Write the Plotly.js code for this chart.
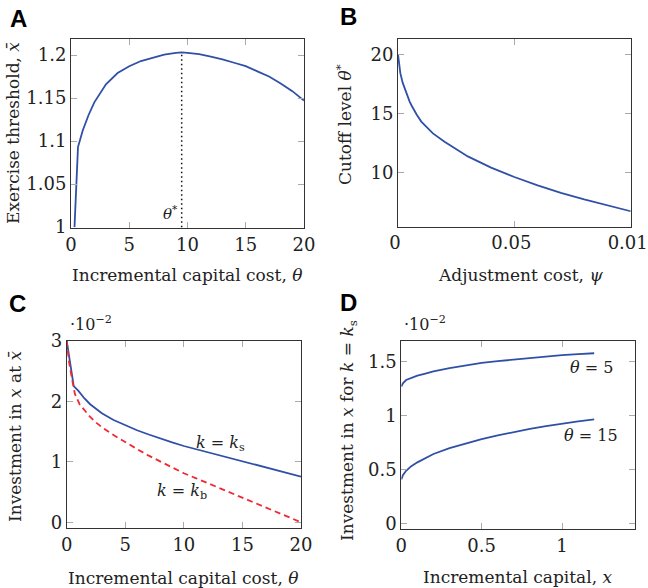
<!DOCTYPE html>
<html><head><meta charset="utf-8">
<script src="https://cdn.plot.ly/plotly-3.0.1.min.js"></script>
<style>html,body{margin:0;padding:0;background:#fff}#plot{width:648px;height:588px}</style>
</head><body><div id="plot"></div>
<script>
// Panel A: exercise threshold vs incremental capital cost
const A_theta = [0.3, 0.6, 1, 1.5, 2, 2.5, 3, 4, 5, 6, 7, 8, 9, 9.5, 10, 11, 12, 13, 14, 15, 16, 17, 18, 19, 20];
const A_xbar  = [1.0, 1.093, 1.112, 1.13, 1.145, 1.156, 1.166, 1.179, 1.187, 1.193, 1.197, 1.2005, 1.2025, 1.203, 1.2025, 1.201, 1.198, 1.195, 1.191, 1.187, 1.181, 1.175, 1.167, 1.158, 1.147];
const A_cut_x = [9.5, 9.5];
const A_cut_y = [1.0, 1.203];
const A_xticks = [0, 5, 10, 15, 20];
const A_yticks = [1, 1.05, 1.1, 1.15, 1.2];
const A_yticklabels = ['1', '1.05', '1.1', '1.15', '1.2'];

// Panel B: cutoff level vs adjustment cost
const B_psi   = [0, 0.0005, 0.001, 0.002, 0.003, 0.004, 0.005, 0.006, 0.0065, 0.008, 0.01, 0.015, 0.02, 0.025, 0.03, 0.04, 0.05, 0.06, 0.07, 0.08, 0.09, 0.1];
const B_theta = [20, 19.0, 18.4, 17.6, 17.0, 16.5, 16.0, 15.6, 15.4, 14.9, 14.3, 13.3, 12.6, 11.95, 11.35, 10.4, 9.6, 8.9, 8.25, 7.7, 7.2, 6.7];
const B_xticks = [0, 0.05, 0.1];
const B_xticklabels = ['0', '0.05', '0.01'];
const B_yticks = [10, 15, 20];

// Panel C: investment in x at x-bar (×10^-2)
const C_theta_s = [0, 0.6, 1, 1.5, 2, 2.5, 3, 4, 5, 6, 7, 8, 9, 10, 11, 12, 13, 14, 15, 16, 17, 18, 19, 20];
const C_ks      = [3.0, 2.25, 2.17, 2.05, 1.95, 1.87, 1.80, 1.69, 1.60, 1.52, 1.45, 1.38, 1.32, 1.26, 1.21, 1.15, 1.10, 1.05, 1.00, 0.95, 0.90, 0.85, 0.80, 0.755];
const C_theta_b = [0, 0.2, 0.43, 0.7, 1.1, 1.5, 2, 2.5, 3, 4, 5, 6, 7, 8, 9, 10, 11, 12, 13, 14, 15, 16, 17, 18, 19, 20];
const C_kb      = [3.0, 2.65, 2.39, 2.12, 1.95, 1.85, 1.74, 1.65, 1.57, 1.44, 1.32, 1.21, 1.10, 1.00, 0.90, 0.81, 0.73, 0.65, 0.57, 0.49, 0.41, 0.33, 0.25, 0.17, 0.09, 0.0];
const C_xticks = [0, 5, 10, 15, 20];
const C_yticks = [0, 1, 2, 3];

// Panel D: investment in x for k = k_s (×10^-2)
const D_x       = [0, 0.01, 0.03, 0.06, 0.1, 0.15, 0.2, 0.3, 0.4, 0.5, 0.6, 0.7, 0.8, 0.9, 1.0, 1.1, 1.2];
const D_theta5  = [1.27, 1.30, 1.33, 1.35, 1.37, 1.39, 1.41, 1.44, 1.465, 1.488, 1.505, 1.52, 1.535, 1.548, 1.56, 1.57, 1.578];
const D_theta15 = [0.41, 0.45, 0.49, 0.53, 0.568, 0.61, 0.645, 0.70, 0.745, 0.784, 0.818, 0.85, 0.877, 0.903, 0.928, 0.948, 0.965];
const D_xticks = [0, 0.5, 1];
const D_yticks = [0, 0.5, 1, 1.5];

const W = 648, H = 588;
const FONT = 'DejaVu Serif';
const FS = 17, TFS = 18;
const BLUE = '#3050a8', RED = '#ee2a35';
const px = x => x / W, py = y => 1 - y / H;

function ax(dom, range, tv, tt, anchor) {
  const o = {domain: dom, range: range, tickmode: 'array', tickvals: tv, anchor: anchor,
    showline: true, linecolor: '#333', linewidth: 1, mirror: 'ticks', ticks: 'inside',
    ticklen: 6, tickwidth: 1, tickcolor: '#aaa', showgrid: false, zeroline: false,
    ticklabeloverflow: 'allow',
    tickfont: {family: FONT, size: TFS, color: '#222'}, fixedrange: true};
  if (tt) o.ticktext = tt;
  return o;
}

const line = (color, dash) => ({color: color, width: 1.8, dash: dash || 'solid'});
const data = [
  {x: A_theta, y: A_xbar, xaxis: 'x', yaxis: 'y', mode: 'lines', line: line(BLUE)},
  {x: A_cut_x, y: A_cut_y, xaxis: 'x', yaxis: 'y', mode: 'lines', line: {color: '#111', width: 1.5, dash: '1.5px,3px'}},
  {x: B_psi, y: B_theta, xaxis: 'x2', yaxis: 'y2', mode: 'lines', line: line(BLUE)},
  {x: C_theta_s, y: C_ks, xaxis: 'x3', yaxis: 'y3', mode: 'lines', line: line(BLUE)},
  {x: C_theta_b, y: C_kb, xaxis: 'x3', yaxis: 'y3', mode: 'lines', line: {color: RED, width: 1.8, dash: '6px,4px'}},
  {x: D_x, y: D_theta5, xaxis: 'x4', yaxis: 'y4', mode: 'lines', line: line(BLUE)},
  {x: D_x, y: D_theta15, xaxis: 'x4', yaxis: 'y4', mode: 'lines', line: line(BLUE)}
];

function txt(x, y, text, size, opts) {
  return Object.assign({xref: 'paper', yref: 'paper', x: px(x), y: py(y), text: text, showarrow: false,
    xanchor: 'center', yanchor: 'middle', font: {family: FONT, size: size, color: '#222'}}, opts || {});
}
function letter(x, y, t) {
  return {xref: 'paper', yref: 'paper', x: px(x), y: py(y), text: '<b>' + t + '</b>', showarrow: false,
    xanchor: 'center', yanchor: 'middle', font: {family: 'Liberation Sans', size: 24, color: '#000'}};
}

const annotations = [
  letter(18, 18, 'A'), letter(348, 17, 'B'), letter(17, 303, 'C'), letter(349, 302, 'D'),
  // axis titles
  txt(187, 275, 'Incremental capital cost, <i>θ</i>', FS),
  txt(13, 133, 'Exercise threshold, <i>x̄</i>', FS, {textangle: -90}),
  txt(520, 275, 'Adjustment cost, <i>ψ</i>', FS),
  txt(344, 125, 'Cutoff level <i>θ</i><sup>*</sup>', FS, {textangle: -90}),
  txt(183, 578, 'Incremental capital cost, <i>θ</i>', FS),
  txt(15, 437, 'Investment in <i>x</i> at <i>x̄</i>', FS, {textangle: -90}),
  txt(518, 577, 'Incremental capital, <i>x</i>', FS),
  txt(348, 431, 'Investment in <i>x</i> for <i>k</i> = <i>k</i><sub>s</sub>', FS, {textangle: -90}),
  // multipliers
  txt(68, 324, '·10<sup>−2</sup>', 16, {xanchor: 'left'}),
  txt(402, 323, '·10<sup>−2</sup>', 16, {xanchor: 'left'}),
  // in-plot labels
  {xref: 'x', yref: 'y', x: 9.5, y: 1.017, text: '<i>θ</i><sup>*</sup>', showarrow: false, xanchor: 'right', xshift: -2,
   font: {family: FONT, size: 15, color: '#222'}},
  txt(220, 444, '<i>k</i> = <i>k</i><sub>s</sub>', 16),
  txt(182, 491, '<i>k</i> = <i>k</i><sub>b</sub>', 16),
  txt(591, 367, '<i>θ</i> = 5', 16),
  txt(591, 435, '<i>θ</i> = 15', 16)
];

const xB = ax([px(398), px(630.7)], [0, 0.1], B_xticks, B_xticklabels, 'y2');
xB.ticklabelshift = -3;

const layout = {
  width: W, height: H, margin: {l: 0, r: 0, t: 0, b: 0},
  paper_bgcolor: '#fff', plot_bgcolor: '#fff', showlegend: false,
  xaxis:  ax([px(71), px(304)], [0, 20], A_xticks, null, 'y'),
  yaxis:  ax([py(228), py(39)], [0.999, 1.2186], A_yticks, A_yticklabels, 'x'),
  xaxis2: xB,
  yaxis2: ax([py(226.7), py(39)], [5.39, 21.3], B_yticks, null, 'x2'),
  xaxis3: ax([px(66.7), px(301)], [0, 20], C_xticks, null, 'y3'),
  yaxis3: ax([py(528.3), py(340.7)], [-0.1, 3.0], C_yticks, null, 'x3'),
  xaxis4: ax([px(401.3), px(634.7)], [0, 1.452], D_xticks, null, 'y4'),
  yaxis4: ax([py(529), py(340.7)], [-0.049, 1.694], D_yticks, null, 'x4'),
  annotations: annotations
};

Plotly.newPlot('plot', data, layout, {staticPlot: true, displayModeBar: false});
</script>
</body></html>
